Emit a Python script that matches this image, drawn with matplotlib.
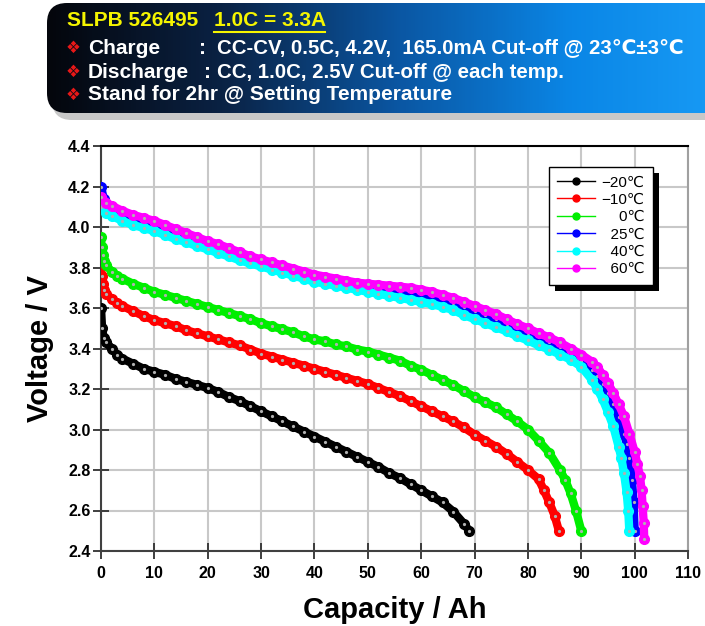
import numpy as np
import matplotlib
matplotlib.use('Agg')
import matplotlib.pyplot as plt
from matplotlib.patches import FancyBboxPatch, Rectangle
from matplotlib.colors import LinearSegmentedColormap

plt.rcParams['font.family'] = ['Liberation Sans', 'DejaVu Sans']

# Discharge curves (capacity in Ah, voltage in V)
cap_m20 = [0, 0.2, 0.5, 1, 2, 3, 4, 6, 8, 10, 12, 14, 16, 18, 20, 22, 24, 26, 28, 30,
           32, 34, 36, 38, 40, 42, 44, 46, 48, 50, 52, 54, 56, 58, 60, 62, 64, 66, 68, 69]
v_m20 = [3.60, 3.50, 3.45, 3.43, 3.40, 3.37, 3.35, 3.325, 3.30, 3.285, 3.27, 3.25, 3.235, 3.22,
         3.205, 3.185, 3.16, 3.14, 3.115, 3.09, 3.065, 3.04, 3.015, 2.99, 2.965, 2.94, 2.915,
         2.89, 2.865, 2.84, 2.815, 2.785, 2.76, 2.73, 2.70, 2.67, 2.64, 2.595, 2.535, 2.50]

cap_m10 = [0, 0.1, 0.3, 0.6, 1, 2, 3, 4, 6, 8, 10, 12, 14, 16, 18, 20, 22, 24, 26, 28, 30,
           32, 34, 36, 38, 40, 42, 44, 46, 48, 50, 52, 54, 56, 58, 60, 62, 64, 66, 68, 70,
           72, 74, 76, 78, 80, 82, 83, 84, 85, 85.8]
v_m10 = [3.82, 3.76, 3.72, 3.69, 3.67, 3.645, 3.625, 3.61, 3.585, 3.56, 3.54, 3.525, 3.51,
         3.49, 3.475, 3.46, 3.445, 3.43, 3.415, 3.395, 3.375, 3.36, 3.345, 3.33, 3.315, 3.30,
         3.285, 3.27, 3.255, 3.24, 3.225, 3.205, 3.185, 3.165, 3.14, 3.115, 3.09, 3.065, 3.04,
         3.01, 2.975, 2.945, 2.915, 2.88, 2.84, 2.80, 2.755, 2.70, 2.64, 2.575, 2.50]

cap_0 = [0, 0.1, 0.3, 0.6, 1, 2, 3, 4, 6, 8, 10, 12, 14, 16, 18, 20, 22, 24, 26, 28, 30,
         32, 34, 36, 38, 40, 42, 44, 46, 48, 50, 52, 54, 56, 58, 60, 62, 64, 66, 68, 70,
         72, 74, 76, 78, 80, 82, 84, 86, 87, 88, 89, 90]
v_0 = [3.95, 3.90, 3.86, 3.83, 3.81, 3.78, 3.76, 3.745, 3.72, 3.70, 3.68, 3.665, 3.65, 3.635,
       3.62, 3.605, 3.59, 3.575, 3.56, 3.545, 3.525, 3.51, 3.495, 3.48, 3.46, 3.445, 3.435,
       3.42, 3.41, 3.395, 3.385, 3.37, 3.355, 3.34, 3.315, 3.295, 3.27, 3.245, 3.22, 3.19,
       3.16, 3.135, 3.11, 3.075, 3.04, 3.00, 2.945, 2.885, 2.80, 2.75, 2.685, 2.60, 2.50]

cap_25 = [0, 0.5, 1, 2, 4, 6, 8, 10, 12, 14, 16, 18, 20, 22, 24, 26, 28, 30, 32, 34, 36, 38,
          40, 42, 44, 46, 48, 50, 52, 54, 56, 58, 60, 62, 64, 66, 68, 70, 72, 74, 76, 78, 80,
          82, 84, 86, 88, 90, 92, 93, 94, 95, 96, 97, 98, 98.5, 99, 99.5, 99.8, 100]
v_25 = [4.20, 4.14, 4.11, 4.095, 4.07, 4.05, 4.03, 4.015, 3.995, 3.975, 3.955, 3.935, 3.915,
        3.90, 3.88, 3.86, 3.84, 3.825, 3.81, 3.795, 3.78, 3.765, 3.75, 3.74, 3.73, 3.72, 3.71,
        3.705, 3.70, 3.695, 3.69, 3.68, 3.67, 3.66, 3.645, 3.625, 3.605, 3.585, 3.565, 3.545,
        3.52, 3.50, 3.475, 3.455, 3.43, 3.405, 3.375, 3.34, 3.295, 3.265, 3.225, 3.18, 3.125,
        3.06, 2.98, 2.93, 2.86, 2.75, 2.64, 2.50]

cap_40 = [0, 1, 2, 4, 6, 8, 10, 12, 14, 16, 18, 20, 22, 24, 26, 28, 30, 32, 34, 36, 38, 40,
          42, 44, 46, 48, 50, 52, 54, 56, 58, 60, 62, 64, 66, 68, 70, 72, 74, 76, 78, 80, 82,
          84, 86, 88, 90, 92, 93, 94, 95, 96, 97, 97.5, 98, 98.5, 98.8, 99]
v_40 = [4.10, 4.07, 4.055, 4.03, 4.01, 3.995, 3.98, 3.96, 3.94, 3.925, 3.905, 3.89, 3.87,
        3.855, 3.835, 3.82, 3.805, 3.79, 3.775, 3.76, 3.745, 3.73, 3.72, 3.71, 3.70, 3.69,
        3.68, 3.67, 3.66, 3.65, 3.64, 3.63, 3.62, 3.605, 3.59, 3.565, 3.545, 3.525, 3.505,
        3.485, 3.46, 3.44, 3.415, 3.395, 3.37, 3.345, 3.31, 3.245, 3.20, 3.15, 3.085, 3.015,
        2.915, 2.86, 2.785, 2.69, 2.60, 2.50]

cap_60 = [0, 1, 2, 4, 6, 8, 10, 12, 14, 16, 18, 20, 22, 24, 26, 28, 30, 32, 34, 36, 38, 40,
          42, 44, 46, 48, 50, 52, 54, 56, 58, 60, 62, 64, 66, 68, 70, 72, 74, 76, 78, 80, 82,
          84, 86, 88, 90, 92, 93, 94, 95, 96, 97, 98, 99, 100, 100.5, 101, 101.3, 101.5,
          101.7, 101.8]
v_60 = [4.15, 4.12, 4.105, 4.08, 4.06, 4.045, 4.03, 4.01, 3.99, 3.97, 3.95, 3.93, 3.915,
        3.895, 3.875, 3.855, 3.84, 3.825, 3.81, 3.795, 3.78, 3.765, 3.755, 3.745, 3.735,
        3.725, 3.72, 3.715, 3.71, 3.705, 3.70, 3.69, 3.68, 3.665, 3.65, 3.63, 3.61, 3.59,
        3.57, 3.545, 3.52, 3.50, 3.475, 3.455, 3.43, 3.40, 3.37, 3.335, 3.31, 3.27, 3.23,
        3.18, 3.125, 3.065, 2.98, 2.89, 2.83, 2.77, 2.70, 2.62, 2.54, 2.46]

labels = ['\u221220\u2103', '\u221210\u2103', '\u2007\u20070\u2103',
          '\u200725\u2103', '\u200740\u2103', '\u200760\u2103']
colors = ['#000000', '#ff0000', '#00ee00', '#0000ff', '#00ffff', '#ff00ff']
x_ticks = [0, 10, 20, 30, 40, 50, 60, 70, 80, 90, 100, 110]
y_ticks = [2.4, 2.6, 2.8, 3.0, 3.2, 3.4, 3.6, 3.8, 4.0, 4.2, 4.4]

curves = [(cap_m20, v_m20), (cap_m10, v_m10), (cap_0, v_0),
          (cap_25, v_25), (cap_40, v_40), (cap_60, v_60)]

W, H = 705, 626
fig = plt.figure(figsize=(W / 100, H / 100), dpi=100)

# background layer in pixel coordinates (header box)
bg = fig.add_axes([0, 0, 1, 1])
bg.axis('off')

shadow = FancyBboxPatch((52, 10), 700, 110, boxstyle='round,pad=0,rounding_size=20',
                        fc='#c8c8c8', ec='none', zorder=1)
bg.add_patch(shadow)
box = FancyBboxPatch((47, 3), 700, 110, boxstyle='round,pad=0,rounding_size=20',
                     fc='none', ec='none', zorder=2)
bg.add_patch(box)
cmap = LinearSegmentedColormap.from_list(
    'hdr', ['#04060c', '#0a2244', '#0b56a2', '#0a86e6', '#1a9ef8'])
grad = np.linspace(0, 1, 300).reshape(1, -1)
im = bg.imshow(grad, extent=(47, 747, 113, 3), cmap=cmap, aspect='auto', zorder=3)
im.set_clip_path(box)
bg.set_xlim(0, W)
bg.set_ylim(H, 0)

hfont = dict(fontsize=15, fontweight='bold', va='center', zorder=5)
bg.text(67, 20, 'SLPB 526495', color='#f5f500', **hfont)
bg.text(214, 20, '1.0C = 3.3A', color='#f5f500', **hfont)
bg.plot([214, 325], [32, 32], color='#f5f500', lw=1.5, zorder=5)
rows = [(48, 'Charge', 199, 'CC-CV, 0.5C, 4.2V,  165.0mA Cut-off @ 23\u2103\u00b13\u2103'),
        (72, 'Discharge', 204, 'CC, 1.0C, 2.5V Cut-off @ each temp.'),
        (95, 'Stand for 2hr @ Setting Temperature', 0, None)]
for y, head, xc, rest in rows:
    bg.text(66, y, '\u2756', color='#e81818', fontsize=12, va='center',
            family='DejaVu Sans', zorder=5)
    bg.text(88, y, head, color='white', **hfont)
    if rest:
        bg.text(xc, y, ':', color='white', **hfont)
        bg.text(217, y, rest, color='white', fontsize=14.7, fontweight='bold',
                va='center', zorder=5)

# main chart
ax = fig.add_axes([101 / W, 1 - 551 / H, 587 / W, 405 / H])
for (cx, vy), col, lab in zip(curves, colors, labels):
    ax.plot(cx, vy, '-', color=col, lw=6, solid_capstyle='round', zorder=3)
    ax.plot(cx, vy, 'o', color=col, ms=7, mec=col, zorder=3)
    ax.plot(cx, vy, '.', color='#b0b0b0', ms=2.6, zorder=3)
    ax.plot([], [], '-o', color=col, lw=1, ms=5, label=lab)

ax.set_xlim(0, 110)
ax.set_ylim(2.4, 4.4)
ax.set_xticks(x_ticks)
ax.set_yticks(y_ticks)
ax.set_yticklabels([f'{v:.1f}' for v in y_ticks])
ax.grid(True, color='#c8c8c8', lw=1.5)
ax.set_axisbelow(True)
ax.tick_params(direction='inout', length=11, width=1.3, color='#303030',
               labelsize=11.5, pad=2)
ax.tick_params(axis='x', pad=5)
for t in ax.get_xticklabels() + ax.get_yticklabels():
    t.set_fontweight('bold')
    t.set_family(['Liberation Sans Narrow', 'Liberation Sans'])
ax.spines['left'].set_color('#404040')
ax.spines['bottom'].set_color('#404040')
ax.spines['top'].set_color('#000000')
ax.spines['right'].set_color('#a0a0a0')
for s in ax.spines.values():
    s.set_linewidth(1.5)

ax.set_xlabel('Capacity / Ah', fontsize=21, fontweight='bold', labelpad=11)
ax.set_ylabel('Voltage / V', fontsize=21, fontweight='bold', labelpad=10)

leg = ax.legend(loc='upper left', bbox_to_anchor=(0.763, 0.948), borderaxespad=0,
                fancybox=False, framealpha=1, edgecolor='black', fontsize=11,
                handlelength=2.5, labelspacing=0.22, borderpad=0.55, handletextpad=0.4)
leg.get_frame().set_linewidth(1.0)
leg.set_zorder(10)

fig.canvas.draw()
bb = leg.get_window_extent()
sh = Rectangle((bb.x0 + 6, bb.y0 - 6), bb.width, bb.height, transform=None,
               fc='black', ec='none', zorder=9)
ax.add_artist(sh)

fig.savefig('out.png', dpi=100)
